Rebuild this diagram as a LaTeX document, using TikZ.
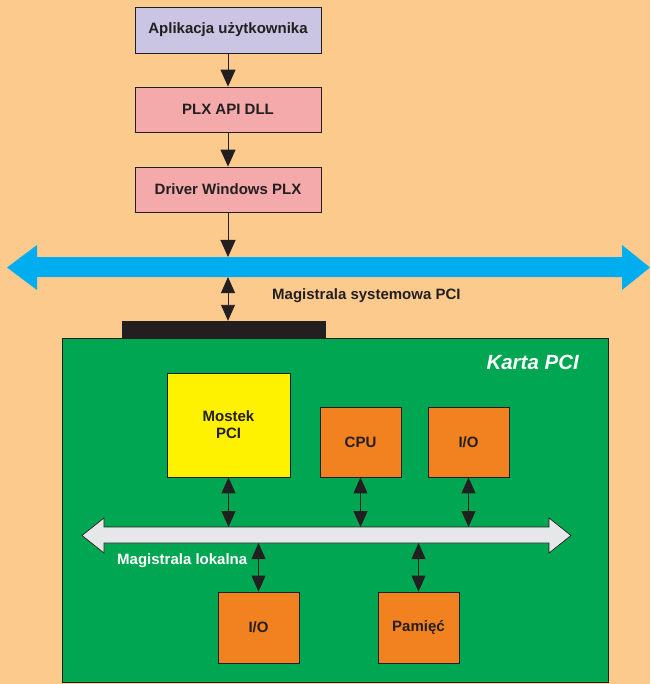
\documentclass[tikz,border=0pt]{standalone}
\usepackage{fontspec}
\setmainfont{Liberation Sans}
\usetikzlibrary{arrows.meta}
\definecolor{bgpeach}{RGB}{253,202,142}
\definecolor{lavbox}{RGB}{201,197,226}
\definecolor{pinkbox}{RGB}{244,169,170}
\definecolor{busblue}{RGB}{0,174,239}
\definecolor{boardgreen}{RGB}{0,166,81}
\definecolor{ylwbox}{RGB}{255,242,0}
\definecolor{orgbox}{RGB}{242,130,32}
\definecolor{busgray}{RGB}{230,231,232}
\definecolor{inkdark}{RGB}{35,31,32}
\tikzset{
  boxstyle/.style={draw=inkdark, line width=0.8pt, inner sep=0pt, text=inkdark,
    font=\fontsize{15}{17}\selectfont\bfseries, align=center},
  arr/.style={-{Triangle[length=17pt,width=15pt]}, line width=0.9pt, draw=inkdark, fill=inkdark},
  dbl/.style={{Triangle[length=16pt,width=14pt]}-{Triangle[length=16pt,width=14pt]}, line width=0.9pt, draw=inkdark, fill=inkdark},
  lbl/.style={inner sep=0pt, font=\fontsize{15}{17}\selectfont\bfseries}
}
\begin{document}
\begin{tikzpicture}[x=1pt,y=-1pt]
\fill[bgpeach] (0,0) rectangle (650,684);
\useasboundingbox (0,0) rectangle (650,684);

% top software stack
\node[boxstyle, fill=lavbox, minimum width=186pt, minimum height=46pt] (app) at (228,30) {Aplikacja użytkownika};
\node[boxstyle, fill=pinkbox, minimum width=186pt, minimum height=45pt] (dll) at (228,109.5) {PLX API DLL};
\node[boxstyle, fill=pinkbox, minimum width=186pt, minimum height=45pt] (drv) at (228,189.5) {Driver Windows PLX};

% system PCI bus
\fill[busblue] (7,267.5) -- (37,245) -- (37,257) -- (622,257) -- (622,245) -- (650,267.5)
  -- (622,290) -- (622,277) -- (37,277) -- (37,290) -- cycle;
\coordinate (sysN) at (228,257);
\coordinate (sysS) at (228,277);
\node[lbl, text=inkdark, anchor=base west] (syslbl) at (272,299) {Magistrala systemowa PCI};

% board
\node[draw=inkdark, line width=0.8pt, fill=boardgreen, minimum width=546pt, minimum height=344pt, inner sep=0pt] (board) at (335,510) {};
\node[fill=inkdark, minimum width=204pt, minimum height=17pt, inner sep=0pt] (edge) at (224,329.5) {};
\node[inner sep=0pt, text=white, font=\fontsize{20.5}{22}\selectfont\bfseries\itshape, anchor=base east] (karta) at (579,369) {Karta PCI};

\node[boxstyle, fill=ylwbox, minimum width=123pt, minimum height=104pt] (most) at (228.5,425) {Mostek\\PCI};
\node[boxstyle, fill=orgbox, minimum width=81pt, minimum height=70pt] (cpu) at (360.5,442) {CPU};
\node[boxstyle, fill=orgbox, minimum width=81pt, minimum height=70pt] (io1) at (468.5,442) {I/O};
\node[boxstyle, fill=orgbox, minimum width=81pt, minimum height=71pt] (io2) at (258.5,627.5) {I/O};
\node[boxstyle, fill=orgbox, minimum width=81pt, minimum height=71pt] (mem) at (418.5,627.5) {Pamięć};

% local bus
\filldraw[fill=busgray, draw=inkdark, line width=0.7pt] (82,535.5) -- (104,518) -- (104,527) -- (549,527) -- (549,518) -- (571,535.5)
  -- (549,553) -- (549,543) -- (104,543) -- (104,553) -- cycle;
\coordinate (locN) at (104,527);
\coordinate (locS) at (104,543);
\node[lbl, text=white, anchor=base west] (loclbl) at (117,564) {Magistrala lokalna};

% connectors
\draw[arr] (app.south) -- (dll.north);
\draw[arr] (dll.south) -- (drv.north);
\draw[arr] (drv.south) -- (sysN);
\draw[dbl] (sysS) -- (sysS |- edge.north);
\draw[dbl] (most.south) -- (most.south |- locN);
\draw[dbl] (cpu.south) -- (cpu.south |- locN);
\draw[dbl] (io1.south) -- (io1.south |- locN);
\draw[dbl] (io2.north |- locS) -- (io2.north);
\draw[dbl] (mem.north |- locS) -- (mem.north);
\end{tikzpicture}
\end{document}
